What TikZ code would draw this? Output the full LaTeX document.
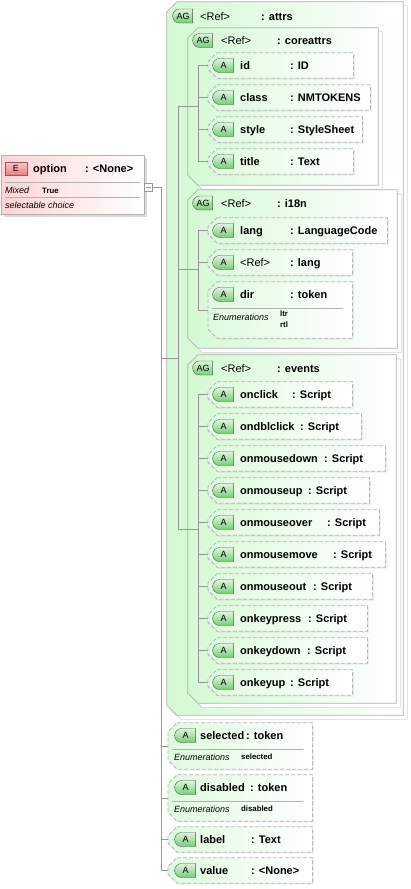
\documentclass[tikz,border=0pt]{standalone}
\usepackage{fontspec}
\setmainfont{Liberation Sans}
\usetikzlibrary{shapes.misc,shadows,positioning}
\definecolor{GrpFill}{RGB}{212,249,212}
\definecolor{GrpLine}{RGB}{178,178,178}
\definecolor{AttFill}{RGB}{222,250,222}
\definecolor{AttLine}{RGB}{180,180,180}
\definecolor{BadgeTop}{RGB}{222,247,222}
\definecolor{BadgeBot}{RGB}{118,204,118}
\definecolor{BadgeLine}{RGB}{70,90,70}
\definecolor{ElemFill}{RGB}{255,212,212}
\definecolor{EBadgeTop}{RGB}{250,200,200}
\definecolor{EBadgeBot}{RGB}{232,130,130}
\definecolor{EBadgeLine}{RGB}{150,90,90}
\definecolor{TreeLine}{RGB}{150,150,150}

% box with cut corners on its left side, drawn round a named node
\newcommand{\chamfbox}[3]{%
  \path[#1] ([xshift=#3]#2.north west) -- (#2.north east) -- (#2.south east)
    -- ([xshift=#3]#2.south west) -- ([yshift=#3]#2.south west)
    -- ([yshift=-#3]#2.north west) -- cycle;}

\tikzset{
  tree/.style={draw=TreeLine, line width=0.7pt},
  sepline/.style={draw=GrpLine, line width=0.7pt},
  elembox/.style={rectangle, draw=GrpLine, left color=ElemFill, right color=white, inner sep=0pt,
    drop shadow={shadow xshift=2.5pt, shadow yshift=-2.5pt, opacity=0.3}},
  conbox/.style={rectangle, draw=TreeLine, fill=white, minimum size=8pt, inner sep=0pt},
  grpnode/.style={rectangle, inner sep=0pt},
  grpshape/.style={draw=GrpLine, line width=0.7pt, left color=GrpFill, right color=white,
    copy shadow={shadow xshift=4pt, shadow yshift=-4pt, draw=GrpLine, fill=white}},
  attnode/.style={rectangle, inner sep=0pt, anchor=west, minimum height=25pt},
  attshape/.style={draw=AttLine, dash pattern=on 4pt off 2pt, line width=0.8pt,
    left color=AttFill, right color=white,
    drop shadow={shadow xshift=1.5pt, shadow yshift=-1.5pt, opacity=0.12}},
  badge/.style={rounded rectangle, rounded rectangle right arc=none, draw=BadgeLine,
    top color=BadgeTop, bottom color=BadgeBot, minimum width=21pt, minimum height=14pt,
    inner sep=0pt, font=\fontsize{9}{10}\selectfont},
  agbadge/.style={badge, minimum width=20pt},
  ebadge/.style={rectangle, draw=EBadgeLine, top color=EBadgeTop, bottom color=EBadgeBot,
    minimum width=22pt, minimum height=13pt, inner sep=0pt, font=\fontsize{9}{10}\selectfont},
  nm/.style={anchor=base west, inner sep=0pt, font=\bfseries\fontsize{11}{13}\selectfont},
  ref/.style={nm, font=\fontsize{11}{13}\selectfont},
  note/.style={anchor=base west, inner sep=0pt, font=\itshape\fontsize{9}{10}\selectfont},
  enumval/.style={anchor=base west, inner sep=0pt, font=\bfseries\fontsize{7.8}{9}\selectfont}
}

\begin{document}
\begin{tikzpicture}[x=1pt, y=-1pt]
  \useasboundingbox (0,0) rectangle (411,889);

  % Element option
  \node[elembox, minimum width=143pt, minimum height=59pt] (option) at (72.5,184.5) {};
  \node[ebadge] (optE) at (16,168.5) {E};
  \node[nm] (optN) at (33,172) {option};
  \node[nm] (optT) at (85,172) {: <None>};
  \draw[sepline] (5,182) -- (140,182);
  \node[note] (optMx) at (5,193.3) {Mixed};
  \node[enumval] (optTr) at (42,193.3) {True};
  \draw[sepline] (5,197) -- (140,197);
  \node[note] (optDoc) at (5,208.3) {selectable choice};
  \node[conbox] (optcon) at (148.5,187) {};
  \draw[TreeLine] ([xshift=2pt]optcon.west) -- ([xshift=-2pt]optcon.east);

  % Group attrs
  \node[grpnode, minimum width=236pt, minimum height=713pt] (attrs) at (285,358.5) {};
  \chamfbox{grpshape}{attrs}{10pt}
  \node[agbadge] (attrsB) at (183,16) {AG};
  \node[ref] (attrsR) at (200,20) {<Ref>};
  \node[nm] (attrsT) at (261,20) {: attrs};

  % Group coreattrs
  \node[grpnode, minimum width=190pt, minimum height=157pt] (core) at (283,106.5) {};
  \chamfbox{grpshape}{core}{10pt}
  \node[agbadge] (coreB) at (203,40.5) {AG};
  \node[ref] (coreR) at (221,44.5) {<Ref>};
  \node[nm] (coreT) at (277,44.5) {: coreattrs};
  \foreach \nm/\tp/\rx [count=\k from 0] in {id/ID/353, class/NMTOKENS/370, style/StyleSheet/362, title/Text/353} {
    \pgfmathsetmacro\cy{65.5+32*\k}
    \pgfmathsetmacro\bw{\rx-208}
    \node[attnode, minimum width=\bw pt] (\nm) at (208,\cy) {};
    \chamfbox{attshape}{\nm}{9pt}
    \node[badge] (b\nm) at (223.5,\cy) {A};
    \node[nm] (n\nm) at (240,\cy+4) {\nm};
    \node[nm] (t\nm) at (290,\cy+4) {: \tp};
  }

  % Group i18n
  \node[grpnode, minimum width=209pt, minimum height=158pt] (i18n) at (292.5,269) {};
  \chamfbox{grpshape}{i18n}{10pt}
  \node[agbadge] (i18nB) at (203,203) {AG};
  \node[ref] (i18nR) at (221,207) {<Ref>};
  \node[nm] (i18nT) at (277,207) {: i18n};
  \node[attnode, minimum width=179pt] (lang) at (208,230.5) {};
  \chamfbox{attshape}{lang}{9pt}
  \node[badge] (blang) at (223.5,230.5) {A};
  \node[nm] (nlang) at (240,234.5) {lang};
  \node[nm] (tlang) at (290,234.5) {: LanguageCode};
  \node[attnode, minimum width=144pt] (lref) at (208,262.5) {};
  \chamfbox{attshape}{lref}{9pt}
  \node[badge] (blref) at (223.5,262.5) {A};
  \node[ref] (nlref) at (240,266.5) {<Ref>};
  \node[nm] (tlref) at (290,266.5) {: lang};
  \node[attnode, minimum width=144pt, minimum height=56pt] (dir) at (208,310) {};
  \chamfbox{attshape}{dir}{9pt}
  \node[badge] (bdir) at (223.5,294.5) {A};
  \node[nm] (ndir) at (240,298.5) {dir};
  \node[nm] (tdir) at (290,298.5) {: token};
  \draw[sepline] (212,308) -- (343,308);
  \node[note] (edir) at (213,320) {Enumerations};
  \node[enumval] (e1dir) at (280,316.5) {ltr};
  \node[enumval] (e2dir) at (280,327.5) {rtl};

  % Group events
  \node[grpnode, minimum width=208pt, minimum height=348pt] (ev) at (292,529) {};
  \chamfbox{grpshape}{ev}{10pt}
  \node[agbadge] (evB) at (203,368) {AG};
  \node[ref] (evR) at (221,372) {<Ref>};
  \node[nm] (evT) at (277,372) {: events};
  \foreach \nm/\cx/\rx [count=\k from 0] in {onclick/292/352, ondblclick/300/361, onmousedown/324/385,
      onmouseup/308/369, onmouseover/327/379, onmousemove/333/385, onmouseout/313/372,
      onkeypress/308/367, onkeydown/307/367, onkeyup/290/352} {
    \pgfmathsetmacro\cy{394.5+32*\k}
    \pgfmathsetmacro\bw{\rx-208}
    \node[attnode, minimum width=\bw pt] (\nm) at (208,\cy) {};
    \chamfbox{attshape}{\nm}{9pt}
    \node[badge] (b\nm) at (223.5,\cy) {A};
    \node[nm] (n\nm) at (240,\cy+4) {\nm};
    \node[nm] (t\nm) at (\cx,\cy+4) {: Script};
  }

  % Attributes of option
  \node[attnode, minimum width=144pt, minimum height=46pt] (selected) at (168,746) {};
  \chamfbox{attshape}{selected}{9pt}
  \node[badge] (bselected) at (185.5,735.5) {A};
  \node[nm] (nselected) at (200,739.5) {selected};
  \node[nm] (tselected) at (246,739.5) {: token};
  \draw[sepline] (172,749) -- (303,749);
  \node[note] (eselected) at (174,760) {Enumerations};
  \node[enumval] (e1selected) at (241,759) {selected};

  \node[attnode, minimum width=144pt, minimum height=46pt] (disabled) at (168,798) {};
  \chamfbox{attshape}{disabled}{9pt}
  \node[badge] (bdisabled) at (185.5,787.5) {A};
  \node[nm] (ndisabled) at (200,791.5) {disabled};
  \node[nm] (tdisabled) at (250,791.5) {: token};
  \draw[sepline] (172,801) -- (303,801);
  \node[note] (edisabled) at (174,812) {Enumerations};
  \node[enumval] (e1disabled) at (241,811) {disabled};

  \node[attnode, minimum width=144pt] (label) at (168,839.5) {};
  \chamfbox{attshape}{label}{9pt}
  \node[badge] (blabel) at (185.5,839.5) {A};
  \node[nm] (nlabel) at (200,843.5) {label};
  \node[nm] (tlabel) at (251,843.5) {: Text};

  \node[attnode, minimum width=144pt] (value) at (168,870.5) {};
  \chamfbox{attshape}{value}{9pt}
  \node[badge] (bvalue) at (185.5,870.5) {A};
  \node[nm] (nvalue) at (200,874.5) {value};
  \node[nm] (tvalue) at (251,874.5) {: <None>};

  % Tree connectors
  \coordinate (sp0) at (161,187);
  \coordinate (spA) at (178,0);
  \coordinate (spG) at (198,0);
  \draw[tree] (optcon) -- (sp0) |- (value.west);
  \draw[tree] (attrs.west -| sp0) -- (attrs.west -| spA);
  \foreach \nm in {selected,disabled,label}
    \draw[tree] (\nm.west -| sp0) -- (\nm.west);
  \draw[tree] (core.west -| spA) -- (ev.west -| spA);
  \foreach \g in {core,i18n,ev}
    \draw[tree] (\g.west -| spA) -- (\g.west -| spG);
  \draw[tree] (id.west -| spG) -- (title.west -| spG);
  \draw[tree] (lang.west -| spG) -- (dir.west -| spG);
  \draw[tree] (onclick.west -| spG) -- (onkeyup.west -| spG);
  \foreach \nm in {id,class,style,title,lang,lref,dir,onclick,ondblclick,onmousedown,onmouseup,
      onmouseover,onmousemove,onmouseout,onkeypress,onkeydown,onkeyup}
    \draw[tree] (\nm.west -| spG) -- (\nm.west);
\end{tikzpicture}
\end{document}
